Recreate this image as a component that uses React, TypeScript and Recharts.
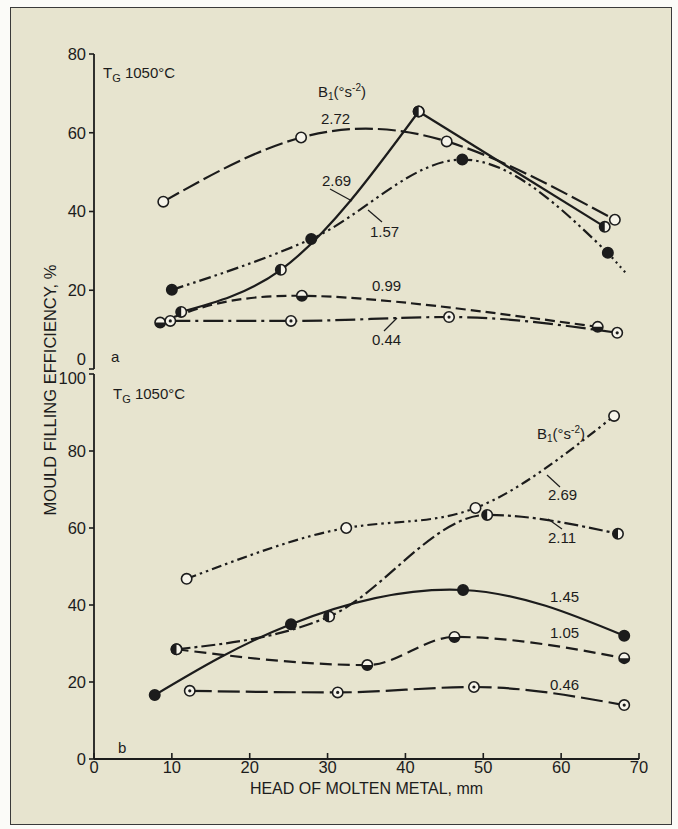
import React from "react";
import { ComposedChart, Line, XAxis, YAxis } from "recharts";

// panel a: head of molten metal (mm) vs mould filling efficiency (%)
const headA272 = [8.9, 26.6, 45.3, 66.9];
const effA272 = [42.5, 58.8, 57.8, 37.9];
const headA269 = [11.2, 24.0, 41.7, 65.6];
const effA269 = [14.5, 25.2, 65.4, 36.1];
const headA157 = [10.0, 27.9, 47.3, 66.0];
const effA157 = [20.1, 33.0, 53.2, 29.5];
const headA157Tail = [66.0, 68.3];
const effA157Tail = [29.5, 24.4];
const headA099 = [8.5, 26.7, 64.7];
const effA099 = [11.8, 18.6, 10.7];
const headA044 = [9.8, 25.3, 45.6, 67.2];
const effA044 = [12.2, 12.2, 13.2, 9.2];

// panel b
const headB269 = [11.9, 32.4, 49.0, 66.8];
const effB269 = [46.8, 60.0, 65.2, 89.1];
const headB211 = [10.6, 30.2, 50.5, 67.3];
const effB211 = [28.5, 37.0, 63.4, 58.5];
const headB145 = [7.8, 25.3, 47.4, 68.1];
const effB145 = [16.6, 35.0, 43.9, 32.0];
const headB105 = [10.6, 35.1, 46.3, 68.1];
const effB105 = [28.5, 24.4, 31.7, 26.2];
const headB046 = [12.3, 31.3, 48.8, 68.1];
const effB046 = [17.7, 17.3, 18.7, 14.0];

const headTicks = [0, 10, 20, 30, 40, 50, 60, 70];
const effTicksA = [0, 20, 40, 60, 80];
const effTicksB = [0, 20, 40, 60, 80, 100];

const INK = "#1c1c1c";
const PAPER = "#e7e4cf";
const FONT = '"Liberation Sans", Arial, Helvetica, sans-serif';

const pts = (xs: number[], ys: number[]) => xs.map((x, i) => ({ x, y: ys[i] }));

type Kind = "open" | "filled" | "halfV" | "halfH" | "dotted";

function Marker({ cx, cy, kind }: { cx?: number; cy?: number; kind: Kind }) {
  if (cx == null || cy == null) return null;
  const r = 5.2;
  const base = (
    <circle cx={cx} cy={cy} r={r} fill={kind === "filled" ? INK : "#f6f4ea"} stroke={INK} strokeWidth={1.6} />
  );
  if (kind === "halfV") {
    return (
      <g>
        {base}
        <path d={`M${cx},${cy - r} A${r},${r} 0 0 0 ${cx},${cy + r} Z`} fill={INK} />
      </g>
    );
  }
  if (kind === "halfH") {
    return (
      <g>
        {base}
        <path d={`M${cx - r},${cy} A${r},${r} 0 0 0 ${cx + r},${cy} Z`} fill={INK} />
      </g>
    );
  }
  if (kind === "dotted") {
    return (
      <g>
        {base}
        <circle cx={cx} cy={cy} r={1.6} fill={INK} />
      </g>
    );
  }
  return base;
}

const dotOf = (kind: Kind) => (p: any) =>
  <Marker key={`m-${p.index}-${p.cx}`} cx={p.cx} cy={p.cy} kind={kind} />;

function lineProps(data: { x: number; y: number }[], kind: Kind | null, dash: string | undefined, curve: any) {
  return {
    data,
    dataKey: "y",
    type: curve,
    stroke: INK,
    strokeWidth: 2.2,
    strokeDasharray: dash,
    dot: kind ? dotOf(kind) : false,
    activeDot: false,
    isAnimationActive: false,
  } as any;
}

// the two panels share one vertical axis line, so their 0 and 100 labels are pushed apart
const effTick = (nudge: Record<number, number>) => (p: any) => (
  <text
    x={p.x}
    y={p.y + (nudge[p.payload.value] ?? 0)}
    dy="0.36em"
    textAnchor="end"
    fill={INK}
    fontSize={16.5}
    fontFamily={FONT}
  >
    {p.payload.value}
  </text>
);

const tickStyle = { fill: INK, fontSize: 16.5, fontFamily: FONT };

export default function App() {
  const a269 = pts(headA269, effA269);
  return (
    <div style={{ position: "absolute", left: 0, top: 0, width: 678, height: 829, background: "#fbfbf8" }}>
      <div
        style={{
          position: "absolute",
          left: 10,
          top: 7,
          width: 662,
          height: 818,
          background: PAPER,
          border: "1.5px solid #3a3a3a",
          boxSizing: "border-box",
        }}
      />
      <div style={{ position: "absolute", left: 0, top: 0 }}>
        <ComposedChart width={678} height={380} margin={{ top: 54, right: 39, bottom: 11, left: 64 }}>
          <XAxis
            type="number"
            dataKey="x"
            domain={[0, 70]}
            height={0}
            tick={false}
            tickLine={false}
            axisLine={{ stroke: INK, strokeWidth: 1.8 }}
          />
          <YAxis
            type="number"
            domain={[0, 80]}
            ticks={effTicksA}
            width={30}
            tickSize={5}
            tickMargin={3}
            tick={effTick({ 0: -10 })}
            axisLine={{ stroke: INK, strokeWidth: 1.8 }}
            tickLine={{ stroke: INK, strokeWidth: 1.6 }}
          />
          <Line {...lineProps(pts(headA099, effA099), "halfH", "10 5", "natural")} />
          <Line {...lineProps(pts(headA044, effA044), "dotted", "20 5 3 5", "monotone")} />
          <Line {...lineProps(pts(headA157Tail, effA157Tail), null, "2 4", "linear")} />
          <Line {...lineProps(pts(headA157, effA157), "filled", "12 4 2.5 4 2.5 4", "monotone")} />
          <Line {...lineProps(pts(headA272, effA272), "open", "18 5", "natural")} />
          <Line {...lineProps(a269.slice(0, 3), "halfV", undefined, "monotone")} />
          <Line {...lineProps(a269.slice(2), "halfV", undefined, "linear")} />
        </ComposedChart>
      </div>
      <div style={{ position: "absolute", left: 0, top: 360 }}>
        <ComposedChart width={678} height={469} margin={{ top: 14, right: 39, bottom: 35, left: 64 }}>
          <XAxis
            type="number"
            dataKey="x"
            domain={[0, 70]}
            ticks={headTicks}
            height={35}
            tickSize={-6}
            tickMargin={8}
            tick={tickStyle}
            axisLine={{ stroke: INK, strokeWidth: 1.8 }}
            tickLine={{ stroke: INK, strokeWidth: 1.6 }}
            label={{
              value: "HEAD OF MOLTEN METAL, mm",
              position: "insideBottom",
              offset: 0,
              fill: INK,
              fontSize: 16,
              fontFamily: FONT,
            }}
          />
          <YAxis
            type="number"
            domain={[0, 100]}
            ticks={effTicksB}
            width={30}
            tickSize={5}
            tickMargin={3}
            tick={effTick({ 100: 4 })}
            axisLine={{ stroke: INK, strokeWidth: 1.8 }}
            tickLine={{ stroke: INK, strokeWidth: 1.6 }}
          />
          <Line {...lineProps(pts(headB046, effB046), "dotted", "22 6", "monotone")} />
          <Line {...lineProps(pts(headB105, effB105), "halfH", "12 6", "monotone")} />
          <Line {...lineProps(pts(headB145, effB145), "filled", undefined, "natural")} />
          <Line {...lineProps(pts(headB211, effB211), "halfV", "14 4 3 4", "monotone")} />
          <Line {...lineProps(pts(headB269, effB269), "open", "10 4 2.5 4 2.5 4", "natural")} />
        </ComposedChart>
      </div>
      <svg
        width={678}
        height={829}
        style={{ position: "absolute", left: 0, top: 0, pointerEvents: "none" }}
        fontFamily={FONT}
        fill={INK}
      >
        <text x={0} y={0} fontSize={16.5} textAnchor="middle" dy="0.35em" transform="translate(50,390) rotate(-90)">
          MOULD FILLING EFFICIENCY, %
        </text>

        {/* panel a annotations */}
        <text x={103} y={78} fontSize={15}>
          T<tspan dy={4} fontSize={11}>G</tspan>
          <tspan dy={-4}> 1050°C</tspan>
        </text>
        <text x={318} y={97} fontSize={15}>
          B<tspan dy={3} fontSize={10}>1</tspan>
          <tspan dy={-3}>(°s</tspan>
          <tspan dy={-6} fontSize={10}>-2</tspan>
          <tspan dy={6}>)</tspan>
        </text>
        <text x={321} y={124} fontSize={15}>2.72</text>
        <text x={322} y={186} fontSize={15}>2.69</text>
        <line x1={330} y1={189} x2={352} y2={201} stroke={INK} strokeWidth={1.2} />
        <text x={370} y={237} fontSize={15}>1.57</text>
        <line x1={368} y1={210} x2={382} y2={222} stroke={INK} strokeWidth={1.2} />
        <text x={372} y={291} fontSize={15}>0.99</text>
        <text x={372} y={345} fontSize={15}>0.44</text>
        <line x1={384} y1={331} x2={397} y2={318} stroke={INK} strokeWidth={1.2} />
        <text x={111} y={362} fontSize={15}>a</text>

        {/* panel b annotations */}
        <text x={113} y={399} fontSize={15}>
          T<tspan dy={4} fontSize={11}>G</tspan>
          <tspan dy={-4}> 1050°C</tspan>
        </text>
        <text x={537} y={439} fontSize={15}>
          B<tspan dy={3} fontSize={10}>1</tspan>
          <tspan dy={-3}>(°s</tspan>
          <tspan dy={-6} fontSize={10}>-2</tspan>
          <tspan dy={6}>)</tspan>
        </text>
        <text x={548} y={500} fontSize={15}>2.69</text>
        <line x1={547} y1={475} x2={560} y2={487} stroke={INK} strokeWidth={1.2} />
        <text x={548} y={543} fontSize={15}>2.11</text>
        <line x1={548} y1={519} x2={562} y2={529} stroke={INK} strokeWidth={1.2} />
        <text x={550} y={602} fontSize={15}>1.45</text>
        <text x={550} y={638} fontSize={15}>1.05</text>
        <text x={550} y={690} fontSize={15}>0.46</text>
        <text x={118} y={753} fontSize={15}>b</text>
      </svg>
    </div>
  );
}
